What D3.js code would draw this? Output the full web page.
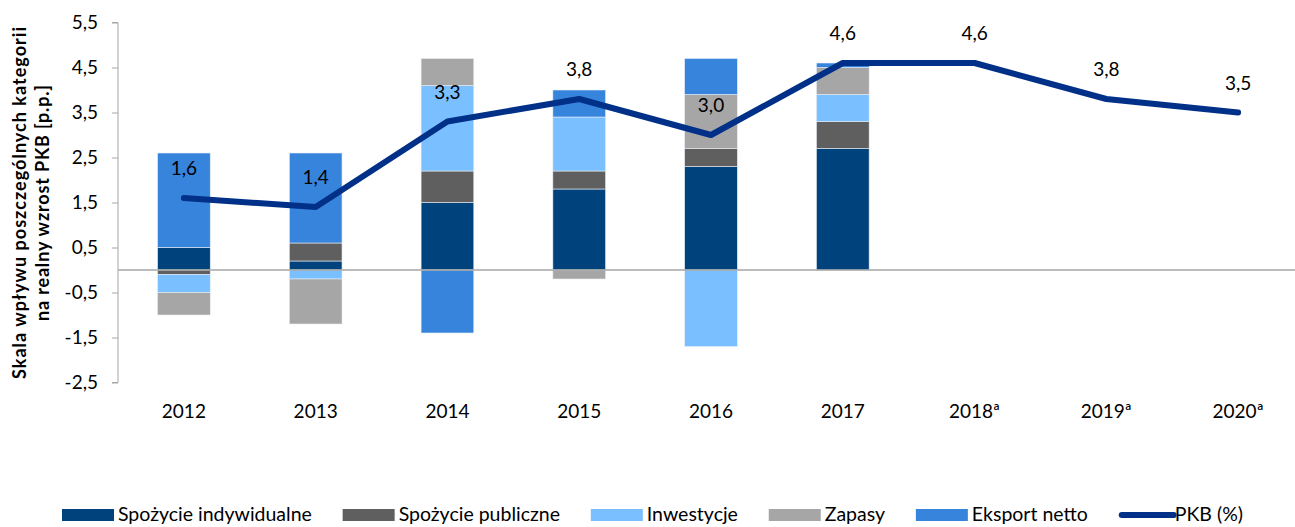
<!DOCTYPE html>
<html>
<head>
<meta charset="utf-8">
<script src="https://cdn.jsdelivr.net/npm/d3@7"></script>
<style>
  body { margin: 0; background: #fff; }
  text { font-family: Lato, "Open Sans", sans-serif; fill: #000; }
</style>
</head>
<body>
<div id="chart"></div>
<script>
// data
let years = ["2012", "2013", "2014", "2015", "2016", "2017", "2018ª", "2019ª", "2020ª"];
let indywidualne = [0.5, 0.2, 1.5, 1.8, 2.3, 2.7, 0, 0, 0];
let publiczne    = [-0.1, 0.4, 0.7, 0.4, 0.4, 0.6, 0, 0, 0];
let inwestycje   = [-0.4, -0.2, 1.9, 1.2, -1.7, 0.6, 0, 0, 0];
let zapasy       = [-0.5, -1.0, 0.6, -0.2, 1.2, 0.6, 0, 0, 0];
let eksport      = [2.1, 2.0, -1.4, 0.6, 0.8, 0.1, 0, 0, 0];
let pkb          = [1.6, 1.4, 3.3, 3.8, 3.0, 4.6, 4.6, 3.8, 3.5];
let yTicks = [-2.5, -1.5, -0.5, 0.5, 1.5, 2.5, 3.5, 4.5, 5.5];

let seriesNames = ["Spożycie indywidualne", "Spożycie publiczne", "Inwestycje", "Zapasy", "Eksport netto"];
let seriesColors = ["#00437c", "#5f5f5f", "#7abfff", "#a6a6a6", "#3784dd"];
let lineColor = "#003087";

let width = 1295, height = 527;

let fmt = function(d) { return d3.format(".1f")(d).replace(".", ",").replace("\u2212", "-"); };

let svg = d3.select("#chart").append("svg")
    .attr("width", width)
    .attr("height", height);

// build table for the stack
let table = years.map(function(y, i) {
    return {year: y, s0: indywidualne[i], s1: publiczne[i], s2: inwestycje[i], s3: zapasy[i], s4: eksport[i]};
});

let x = d3.scaleBand()
    .domain(years)
    .range([118, 1304])
    .paddingInner(0.6)
    .paddingOuter(0.3);

let y = d3.scaleLinear()
    .domain([-2.5, 5.5])
    .range([382.5, 22.5]);

let stack = d3.stack()
    .keys(["s0", "s1", "s2", "s3", "s4"])
    .offset(d3.stackOffsetDiverging);

let layers = stack(table);

// y axis
let yAxis = d3.axisLeft(y)
    .tickValues(yTicks)
    .tickSize(6)
    .tickFormat(fmt);

let gy = svg.append("g")
    .attr("transform", "translate(118,0)")
    .call(yAxis);
gy.select(".domain").attr("stroke", "#a6a6a6").attr("d", "M-6," + y(-2.5) + "H0V" + y(5.5) + "H-6");
gy.selectAll(".tick line").attr("stroke", "#a6a6a6");
gy.selectAll(".tick text")
    .attr("x", -20)
    .style("font-size", "19px")
    .style("font-family", "Lato, sans-serif")
    .attr("fill", "#000");

// bars
svg.append("g")
    .selectAll("g")
    .data(layers)
    .enter().append("g")
    .attr("fill", function(d, i) { return seriesColors[i]; })
    .selectAll("rect")
    .data(function(d) { return d; })
    .enter().append("rect")
    .attr("x", function(d) { return x(d.data.year); })
    .attr("width", x.bandwidth())
    .attr("y", function(d) { return y(Math.max(d[0], d[1])); })
    .attr("height", function(d) { return Math.abs(y(d[0]) - y(d[1])); })
    .attr("stroke", "#e8eef5")
    .attr("stroke-width", 0.6);

// zero line
svg.append("line")
    .attr("x1", 118).attr("x2", width)
    .attr("y1", y(0)).attr("y2", y(0))
    .attr("stroke", "#a6a6a6")
    .attr("stroke-width", 1.5);

// x labels
svg.append("g")
    .selectAll("text")
    .data(years)
    .enter().append("text")
    .attr("x", function(d) { return x(d) + x.bandwidth() / 2; })
    .attr("y", 418)
    .attr("text-anchor", "middle")
    .style("font-size", "19px")
    .text(function(d) { return d; });

// PKB line
let line = d3.line()
    .x(function(d, i) { return x(years[i]) + x.bandwidth() / 2; })
    .y(function(d) { return y(d); });

svg.append("path")
    .datum(pkb)
    .attr("d", line)
    .attr("fill", "none")
    .attr("stroke", lineColor)
    .attr("stroke-width", 6)
    .attr("stroke-linecap", "round")
    .attr("stroke-linejoin", "round");

svg.append("g")
    .selectAll("text")
    .data(pkb)
    .enter().append("text")
    .attr("x", function(d, i) { return x(years[i]) + x.bandwidth() / 2; })
    .attr("y", function(d) { return y(d) - 23; })
    .attr("text-anchor", "middle")
    .style("font-size", "19px")
    .text(fmt);

// y title
let title = svg.append("text")
    .attr("transform", "translate(0,203) rotate(-90)")
    .attr("text-anchor", "middle")
    .style("font-size", "18px")
    .style("font-weight", "bold");
title.append("tspan").attr("x", 0).attr("y", 26)
    .attr("textLength", 352).attr("lengthAdjust", "spacing")
    .text("Skala wpływu poszczególnych kategorii");
title.append("tspan").attr("x", 0).attr("y", 49)
    .attr("textLength", 236).attr("lengthAdjust", "spacing")
    .text("na realny wzrost PKB [p.p.]");

// legend
let legendItems = seriesNames.concat(["PKB (%)"]);
let legend = svg.append("g");
let items = legend.selectAll("g")
    .data(legendItems)
    .enter().append("g");
items.append("text")
    .attr("y", 521)
    .style("font-size", "19.5px")
    .text(function(d) { return d; });

let swW = 52, swGap = 4, startX = 62, endX = 1243;
let widths = [];
items.select("text").each(function() { widths.push(this.getComputedTextLength()); });
let total = d3.sum(widths) + legendItems.length * (swW + swGap);
let gap = (endX - startX - total) / (legendItems.length - 1);

let cx = startX;
items.each(function(d, i) {
    let g = d3.select(this);
    if (i < seriesNames.length) {
        g.append("rect")
            .attr("x", cx).attr("y", 509)
            .attr("width", swW).attr("height", 12)
            .attr("fill", seriesColors[i]);
    } else {
        g.append("line")
            .attr("x1", cx + 3).attr("x2", cx + swW + 3)
            .attr("y1", 515).attr("y2", 515)
            .attr("stroke", lineColor)
            .attr("stroke-width", 6)
            .attr("stroke-linecap", "round");
    }
    g.select("text").attr("x", cx + swW + swGap);
    cx += swW + swGap + widths[i] + gap;
});
</script>
</body>
</html>
